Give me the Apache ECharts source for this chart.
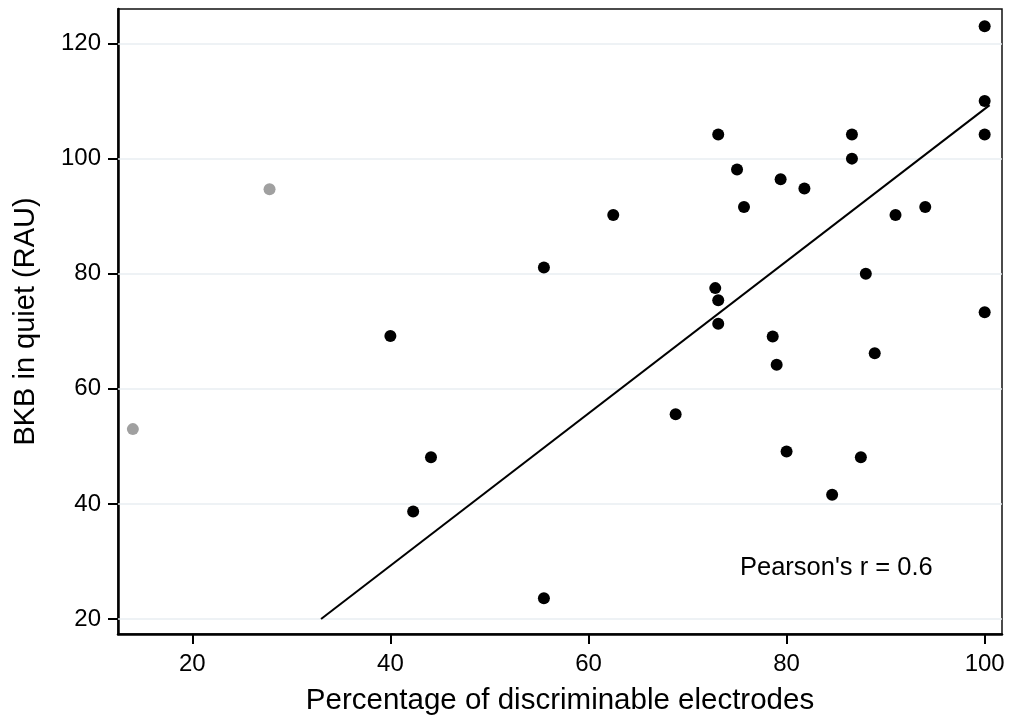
<!DOCTYPE html>
<html>
<head>
<meta charset="utf-8">
<script src="https://cdn.jsdelivr.net/npm/echarts@6/dist/echarts.min.js"></script>
<style>
  html, body { margin: 0; padding: 0; background: #fff; }
  #chart { width: 1012px; height: 718px; }
</style>
</head>
<body>
<div id="chart"></div>
<script>
// percentage of discriminable electrodes vs BKB score
var blackX = [40.0, 42.3, 44.1, 55.5, 55.5, 62.5, 68.8, 72.8, 73.1, 73.1, 73.1, 75.0, 75.7, 78.6, 79.0,
              79.4, 80.0, 81.8, 84.6, 86.6, 86.6, 87.5, 88.0, 88.9, 91.0, 94.0, 100, 100, 100, 100];
var blackY = [69.2, 38.7, 48.1, 81.1, 23.6, 90.2, 55.6, 77.5, 75.4, 71.3, 104.2, 98.1, 91.6, 69.1, 64.2,
              96.4, 49.1, 94.8, 41.6, 104.2, 100.0, 48.1, 80.0, 66.2, 90.2, 91.6, 123.0, 110.0, 104.2, 73.3];
var greyX = [14.0, 27.8];
var greyY = [53.0, 94.7];
var fitX = [33.0, 100.5];
var fitY = [20.0, 109.3];
var xTicks = [20, 40, 60, 80, 100];
var yTicks = [20, 40, 60, 80, 100, 120];

function pairs(xs, ys) {
  var out = [];
  for (var i = 0; i < xs.length; i++) out.push([xs[i], ys[i]]);
  return out;
}

var font = 'Liberation Sans, Arial, sans-serif';
var chart = echarts.init(document.getElementById('chart'));
chart.setOption({
  animation: false,
  grid: {
    left: 118, top: 9, right: 10, bottom: 84,
    outerBoundsMode: 'none', containLabel: false,
    show: true, borderColor: '#111', borderWidth: 1.5
  },
  xAxis: {
    type: 'value', min: 12.5, max: 101.75,
    name: 'Percentage of discriminable electrodes',
    nameLocation: 'middle', nameGap: 52,
    nameTextStyle: { fontSize: 29.5, color: '#000', fontFamily: font },
    axisLine: { lineStyle: { color: '#000', width: 2.5 } },
    axisTick: { inside: false, length: 10, customValues: xTicks, lineStyle: { color: '#000', width: 2 } },
    axisLabel: { customValues: xTicks, margin: 18, fontSize: 24, color: '#000', fontFamily: font },
    splitLine: { show: false }
  },
  yAxis: {
    type: 'value', min: 17.4, max: 126,
    name: 'BKB in quiet (RAU)',
    nameLocation: 'middle', nameGap: 78,
    nameTextStyle: { fontSize: 29, color: '#000', fontFamily: font },
    axisLine: { lineStyle: { color: '#000', width: 2.5 } },
    axisTick: { inside: false, length: 10, customValues: yTicks, lineStyle: { color: '#000', width: 2 } },
    axisLabel: { customValues: yTicks, margin: 17, fontSize: 24, color: '#000', fontFamily: font },
    splitLine: { show: false }
  },
  graphic: [{
    type: 'text', left: 740, top: 555, silent: true,
    style: { text: "Pearson's r = 0.6", fontSize: 25.5, fill: '#000', fontFamily: font }
  }],
  series: [
    {
      type: 'line', data: pairs(fitX, fitY), showSymbol: false, symbol: 'none',
      lineStyle: { color: '#000', width: 2 }, z: 3,
      markLine: {
        silent: true, symbol: 'none', label: { show: false },
        lineStyle: { color: '#e8eef2', width: 1.5, type: 'solid' },
        data: yTicks.map(function (v) { return { yAxis: v }; }),
        z: 1
      }
    },
    {
      type: 'scatter', data: pairs(greyX, greyY), symbolSize: 12,
      itemStyle: { color: '#a0a0a0', opacity: 1 }, z: 4
    },
    {
      type: 'scatter', data: pairs(blackX, blackY), symbolSize: 12,
      itemStyle: { color: '#000', opacity: 1 }, z: 4
    }
  ]
});
</script>
</body>
</html>
